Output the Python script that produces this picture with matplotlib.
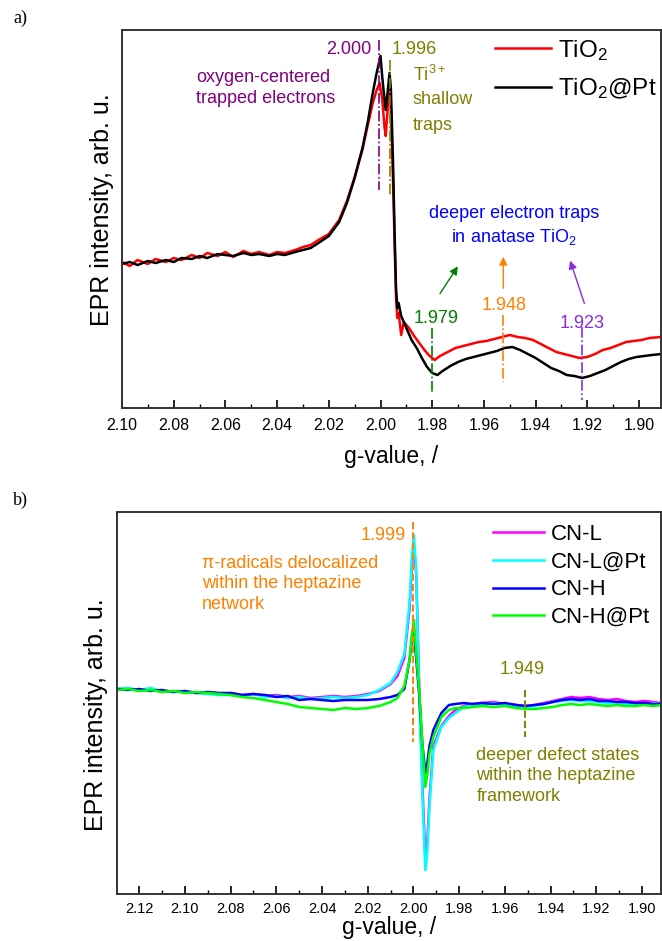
import matplotlib
matplotlib.use('Agg')
import matplotlib.pyplot as plt
from matplotlib.ticker import MultipleLocator

plt.rcParams['font.family'] = ['Liberation Sans', 'DejaVu Sans']
plt.rcParams['mathtext.fontset'] = 'custom'
plt.rcParams['mathtext.rm'] = 'Liberation Sans'
plt.rcParams['mathtext.it'] = 'Liberation Sans:italic'

# ---- panel a) TiO2 samples ----
g_tio2 = [2.100, 2.097, 2.094, 2.090, 2.087, 2.083, 2.080, 2.077, 2.073, 2.070,
          2.067, 2.063, 2.060, 2.057, 2.053, 2.050, 2.047, 2.043, 2.040, 2.037,
          2.033, 2.030, 2.027, 2.024, 2.020, 2.016, 2.013, 2.010, 2.007, 2.005,
          2.003, 2.0015, 2.0003, 1.9993, 1.9985, 1.998, 1.9972, 1.9965, 1.996, 1.9952,
          1.9945, 1.994, 1.9935, 1.993, 1.992, 1.991, 1.989, 1.987, 1.985, 1.983,
          1.981, 1.979, 1.977, 1.974, 1.971, 1.968, 1.965, 1.962, 1.959, 1.956,
          1.953, 1.950, 1.947, 1.944, 1.941, 1.938, 1.935, 1.932, 1.929, 1.926,
          1.923, 1.920, 1.917, 1.914, 1.911, 1.908, 1.905, 1.902, 1.899, 1.896, 1.8915]
i_tio2 = [146, 142, 148, 144, 149, 146, 150, 148, 153, 150,
          155, 152, 156, 151, 157, 154, 156, 153, 156, 155,
          158, 161, 163, 168, 174, 188, 207, 231, 258, 282,
          305, 318, 325, 308, 282, 272, 300, 318, 300, 230,
          160, 110, 90, 95, 73, 86, 80, 72, 65, 58,
          52, 48, 52, 56, 60, 62, 64, 66, 67, 69,
          71, 73, 71, 70, 68, 64, 60, 56, 54, 52,
          50, 51, 54, 58, 60, 63, 66, 67, 68, 70, 71]

g_tio2pt = [2.100, 2.097, 2.094, 2.090, 2.087, 2.083, 2.080, 2.077, 2.073, 2.070,
            2.067, 2.063, 2.060, 2.057, 2.053, 2.050, 2.047, 2.043, 2.040, 2.037,
            2.033, 2.030, 2.027, 2.024, 2.020, 2.016, 2.013, 2.010, 2.007, 2.005,
            2.003, 2.0015, 2.000, 1.9993, 1.9985, 1.998, 1.9973, 1.9965, 1.996, 1.9952,
            1.9945, 1.994, 1.9935, 1.993, 1.992, 1.990, 1.988, 1.986, 1.984, 1.982,
            1.980, 1.978, 1.976, 1.973, 1.970, 1.967, 1.964, 1.961, 1.958, 1.955,
            1.952, 1.949, 1.946, 1.943, 1.940, 1.937, 1.934, 1.931, 1.928, 1.925,
            1.922, 1.919, 1.916, 1.913, 1.910, 1.907, 1.904, 1.901, 1.898, 1.895, 1.8915]
i_tio2pt = [144, 146, 143, 147, 145, 148, 146, 150, 149, 152,
            150, 154, 153, 152, 155, 153, 154, 152, 154, 153,
            156, 158, 160, 165, 172, 186, 205, 230, 260, 285,
            315, 335, 352, 330, 310, 298, 315, 335, 320, 250,
            170, 120, 100, 105, 92, 80, 68, 60, 50, 41,
            35, 33, 37, 42, 46, 49, 51, 53, 55, 57,
            60, 61, 58, 54, 50, 45, 40, 37, 33, 32,
            30, 32, 35, 38, 42, 46, 49, 51, 52, 53, 54]

# ---- panel b) carbon nitride samples ----
g_cn = [2.1297, 2.125, 2.120, 2.115, 2.110, 2.105, 2.100, 2.095, 2.090, 2.085,
        2.080, 2.075, 2.070, 2.065, 2.060, 2.055, 2.050, 2.045, 2.040, 2.035,
        2.030, 2.025, 2.020, 2.015, 2.010, 2.007, 2.004, 2.0017, 2.0008, 1.9998,
        1.9988, 1.9975, 1.9961, 1.9948, 1.9940, 1.993, 1.9913, 1.9878, 1.9845, 1.9817,
        1.978, 1.974, 1.970, 1.965, 1.960, 1.955, 1.951, 1.947, 1.943, 1.939,
        1.935, 1.931, 1.927, 1.923, 1.919, 1.915, 1.911, 1.907, 1.903, 1.899,
        1.895, 1.8917]
i_cnl = [205, 206, 203, 205, 202, 203, 202, 201, 202, 200,
         201, 199, 200, 198, 199, 197, 198, 196, 197, 198,
         197, 198, 200, 203, 210, 218, 236, 285, 325, 349,
         320, 210, 110, 36, 50, 95, 148, 168, 178, 184,
         188, 190, 191, 192, 190, 189, 188, 189, 191, 193,
         195, 197, 196, 197, 195, 194, 195, 193, 192, 193, 192, 191]
i_cnlpt = [205, 206, 204, 206, 203, 202, 203, 201, 200, 199,
           199, 198, 200, 197, 198, 196, 197, 195, 196, 197,
           196, 197, 199, 204, 211, 222, 240, 291, 335, 359,
           325, 200, 100, 24, 40, 87, 144, 167, 176, 181,
           187, 189, 190, 191, 189, 188, 187, 188, 190, 192,
           193, 194, 193, 193, 192, 191, 191, 190, 190, 190, 191, 190]
i_cnh = [205, 204, 205, 203, 204, 202, 203, 201, 202, 201,
         201, 199, 200, 199, 197, 198, 194, 195, 194, 193,
         194, 194, 194, 195, 197, 199, 205, 234, 252, 261,
         235, 200, 150, 121, 130, 148, 164, 181, 189, 190,
         191, 190, 191, 190, 191, 189, 188, 189, 190, 192,
         194, 195, 194, 195, 193, 193, 192, 192, 191, 191, 190, 190]
i_cnhpt = [204, 205, 203, 204, 202, 203, 201, 202, 201, 200,
           199, 197, 196, 194, 192, 190, 187, 186, 185, 184,
           186, 185, 186, 188, 192, 196, 208, 234, 258, 274,
           240, 205, 150, 107, 118, 140, 157, 177, 184, 186,
           186, 187, 188, 187, 188, 186, 185, 185, 186, 187,
           189, 190, 189, 190, 189, 188, 189, 188, 188, 189, 188, 189]

fig = plt.figure(figsize=(6.62, 9.41), dpi=100)
ax1 = fig.add_axes([122/662, 1 - 408/941, 539/662, 378/941])
ax2 = fig.add_axes([117/662, 1 - 894/941, 544/662, 382/941])

for ax in (ax1, ax2):
    for s in ax.spines.values():
        s.set_linewidth(1.4)
        s.set_color('#333333')
    ax.set_yticks([])
    ax.xaxis.set_major_locator(MultipleLocator(0.02))
    ax.xaxis.set_minor_locator(MultipleLocator(0.01))
    ax.tick_params(axis='x', which='major', direction='in', length=6, width=1.2)
    ax.tick_params(axis='x', which='minor', direction='in', length=3, width=1.0)
    ax.xaxis.set_major_formatter(plt.FuncFormatter(lambda v, p: '%.2f' % v))

# panel a
ax1.plot(g_tio2, i_tio2, color='red', lw=1.8, label='TiO$_2$')
ax1.plot(g_tio2pt, i_tio2pt, color='black', lw=1.8, label='TiO$_2$@Pt')
ax1.set_xlim(2.10, 1.8915)
ax1.set_ylim(0, 378)
ax1.tick_params(axis='x', labelsize=11.5, pad=7)
ax1.set_xlabel('g-value, /', fontsize=16.5, labelpad=9)
ax1.set_ylabel('EPR intensity, arb. u.', fontsize=18)
ax1.yaxis.set_label_coords(-0.014, 0.524)

ax1.plot([2.0004, 2.0004], [368, 218], color='#800080', ls='-.', lw=1.2)
ax1.plot([1.9965, 1.9965], [348, 213], color='#808000', ls='-.', lw=1.2)
ax1.text(2.0035, 358, '2.000', color='#800080', fontsize=13, ha='right', va='center')
ax1.text(1.9957, 358, '1.996', color='#808000', fontsize=13, ha='left', va='center')
ax1.text(2.0714, 320, 'oxygen-centered\ntrapped electrons', color='#800080',
         fontsize=13, ha='left', va='center', linespacing=1.3)
ax1.text(1.9876, 333, 'Ti$^{3+}$', color='#808000', fontsize=13, ha='left', va='center')
ax1.text(1.9876, 308, 'shallow', color='#808000', fontsize=13, ha='left', va='center')
ax1.text(1.9876, 283, 'traps', color='#808000', fontsize=13, ha='left', va='center')
ax1.text(1.9483, 182, 'deeper electron traps\nin anatase TiO$_2$', color='blue',
         fontsize=13, ha='center', va='center', linespacing=1.3)

ax1.plot([1.9799, 1.9799], [80, 16], color='#008000', ls='-.', lw=1.2)
ax1.plot([1.9525, 1.9525], [93, 26], color='#FF8000', ls='-.', lw=1.2)
ax1.plot([1.9220, 1.9220], [81, 8], color='#8A2BE2', ls='-.', lw=1.2)
ax1.text(1.9784, 90, '1.979', color='#008000', fontsize=13, ha='center', va='center')
ax1.text(1.9521, 103, '1.948', color='#FF8000', fontsize=13, ha='center', va='center')
ax1.text(1.9220, 85, '1.923', color='#8A2BE2', fontsize=13, ha='center', va='center')
ax1.annotate('', xy=(1.9695, 144), xytext=(1.9776, 112),
             arrowprops=dict(arrowstyle='-|>', color='#008000', lw=1.0, mutation_scale=12))
ax1.annotate('', xy=(1.9525, 154), xytext=(1.9525, 117),
             arrowprops=dict(arrowstyle='-|>', color='#FF8000', lw=1.0, mutation_scale=12))
ax1.annotate('', xy=(1.9270, 150), xytext=(1.9208, 102),
             arrowprops=dict(arrowstyle='-|>', color='#8A2BE2', lw=1.0, mutation_scale=12))

ax1.legend(loc='upper left', bbox_to_anchor=(495/662, 1 - 38/941),
           bbox_transform=fig.transFigure, frameon=False, fontsize=17.5,
           handlelength=2.3, handletextpad=0.3, labelspacing=0.55, borderpad=0,
           borderaxespad=0)

# panel b
ax2.plot(g_cn, i_cnl, color='#FF00FF', lw=1.8, label='CN-L')
ax2.plot(g_cn, i_cnlpt, color='#00FFFF', lw=1.8, label='CN-L@Pt')
ax2.plot(g_cn, i_cnh, color='#0000FF', lw=1.8, label='CN-H')
ax2.plot(g_cn, i_cnhpt, color='#00FF00', lw=1.8, label='CN-H@Pt')
ax2.set_xlim(2.1297, 1.8917)
ax2.set_ylim(0, 382)
ax2.tick_params(axis='x', labelsize=10.5, pad=6)
ax2.set_xlabel('g-value, /', fontsize=16.5, labelpad=0)
ax2.set_ylabel('EPR intensity, arb. u.', fontsize=18)
ax2.yaxis.set_label_coords(-0.016, 0.47)

ax2.plot([2.000, 2.000], [372, 152], color='#FF8000', ls='--', lw=1.4)
ax2.plot([1.9511, 1.9511], [204, 157], color='#808000', ls='--', lw=1.4)
ax2.text(2.0031, 359, '1.999', color='#FF8000', fontsize=13, ha='right', va='center')
ax2.text(2.0926, 310, 'π-radicals delocalized\nwithin the heptazine\nnetwork',
         color='#FF8000', fontsize=13, ha='left', va='center', linespacing=1.3)
ax2.text(1.9524, 225, '1.949', color='#808000', fontsize=13, ha='center', va='center')
ax2.text(1.9725, 118, 'deeper defect states\nwithin the heptazine\nframework',
         color='#808000', fontsize=13, ha='left', va='center', linespacing=1.3)

ax2.legend(loc='upper left', bbox_to_anchor=(493/662, 1 - 524/941),
           bbox_transform=fig.transFigure, frameon=False, fontsize=16,
           handlelength=2.3, handletextpad=0.3, labelspacing=0.3, borderpad=0,
           borderaxespad=0)

fig.text(13/662, 1 - 18/941, 'a)', family=['Liberation Serif'], fontsize=13, va='center')
fig.text(13/662, 1 - 500/941, 'b)', family=['Liberation Serif'], fontsize=13, va='center')

fig.savefig('out.png', dpi=100)
